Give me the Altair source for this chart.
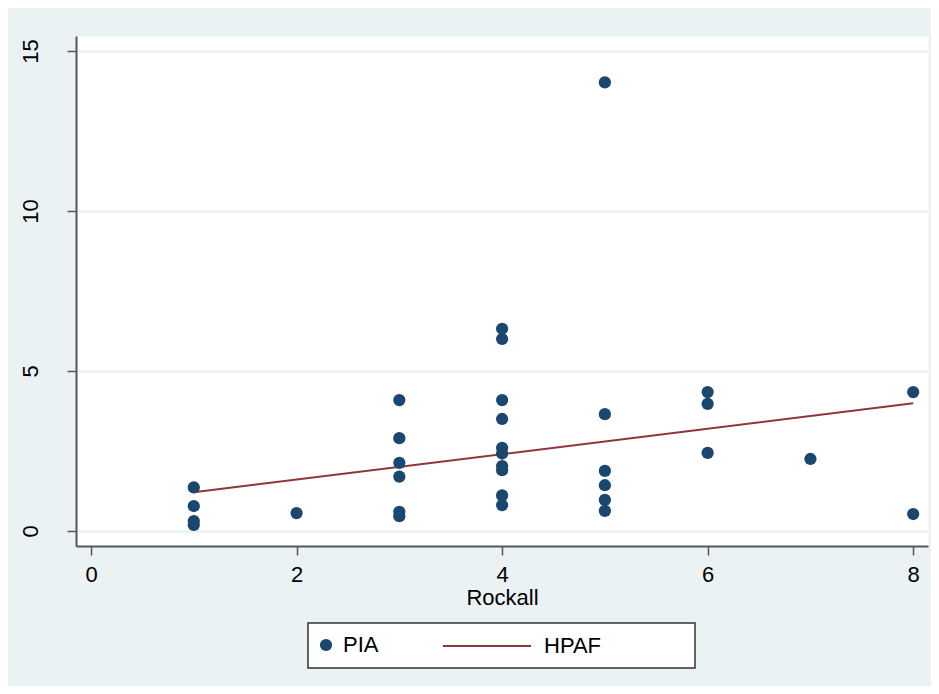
import altair as alt
import pandas as pd

# Data
rockall = [1, 1, 1, 1, 2, 3, 3, 3, 3, 3, 3,
           4, 4, 4, 4, 4, 4, 4, 4, 4, 4,
           5, 5, 5, 5, 5, 5,
           6, 6, 6, 7, 8, 8]
pia = [1.36, 0.78, 0.31, 0.19, 0.56, 4.09, 2.90, 2.13, 1.70, 0.60, 0.46,
       6.32, 6.00, 4.09, 3.50, 2.60, 2.42, 2.03, 1.90, 1.11, 0.81,
       14.02, 3.65, 1.88, 1.43, 0.97, 0.63,
       4.34, 3.97, 2.44, 2.25, 4.34, 0.53]
fit_x = [1, 8]
fit_y = [1.21, 3.99]

x_ticks = [0, 2, 4, 6, 8]
y_ticks = [0, 5, 10, 15]

pts = pd.DataFrame({"Rockall": rockall, "PIA": pia, "s": ["PIA"] * len(pia)})
fit = pd.DataFrame({"Rockall": fit_x, "HPAF": fit_y, "s": ["HPAF"] * len(fit_x)})
box = pd.DataFrame({"b": [0]})

FONT = "Liberation Sans"
NAVY = "#1a476f"
RED = "#90353b"
BG = "#eaf2f3"

xscale = alt.Scale(domain=[-0.146, 8.144], nice=False, zero=False)
yscale = alt.Scale(domain=[-0.47, 15.47], nice=False, zero=False)

xaxis = alt.Axis(values=x_ticks, title="Rockall", grid=False, format="d",
                 labelFontSize=22, titleFontSize=22, titleFontWeight="normal",
                 labelPadding=9, titlePadding=2, tickSize=9)
yaxis = alt.Axis(values=y_ticks, title=None, grid=True, format="d",
                 labelFontSize=22, labelAngle=270, labelAlign="center",
                 labelBaseline="alphabetic", labelPadding=30, tickSize=9)

points = alt.Chart(pts).mark_circle(size=150, opacity=1).encode(
    x=alt.X("Rockall:Q", scale=xscale, axis=xaxis),
    y=alt.Y("PIA:Q", scale=yscale, axis=yaxis),
    color=alt.Color("s:N", scale=alt.Scale(domain=["PIA"], range=[NAVY]),
                    legend=alt.Legend(title=None, orient="none", legendX=239, legendY=598,
                                      symbolType="circle", symbolSize=150,
                                      labelFontSize=22, labelOffset=6, padding=0)),
)

line = alt.Chart(fit).mark_line(strokeWidth=2).encode(
    x=alt.X("Rockall:Q", scale=xscale),
    y=alt.Y("HPAF:Q", scale=yscale),
    stroke=alt.Stroke("s:N", scale=alt.Scale(domain=["HPAF"], range=[RED]),
                      legend=alt.Legend(title=None, orient="none", legendX=366, legendY=565,
                                        symbolType="stroke", symbolSize=7744,
                                        symbolStrokeWidth=2,
                                        labelFontSize=22, labelOffset=12, padding=0)),
)

legend_box = alt.Chart(box).mark_rect(fill="white", stroke="#333333", strokeWidth=1.5).encode(
    x=alt.value(232), x2=alt.value(619), y=alt.value(587), y2=alt.value(632)
)

chart = alt.layer(legend_box, line, points).resolve_scale(
    color="independent", stroke="independent"
).properties(
    width=852, height=510,
    background=BG,
    padding={"left": 68, "top": 28, "right": 3, "bottom": 140},
    autosize=alt.AutoSizeParams(type="none"),
).configure_view(
    fill="white", stroke="transparent"
).configure_axis(
    labelFont=FONT, titleFont=FONT, labelColor="black", titleColor="black",
    domainColor="#555555", domainWidth=2, tickColor="#555555", tickWidth=1.5,
    gridColor=BG, gridWidth=2.5,
).configure_legend(
    labelFont=FONT, labelColor="black"
)

chart.save("out.html", embed_options={"renderer": "svg", "actions": False})
